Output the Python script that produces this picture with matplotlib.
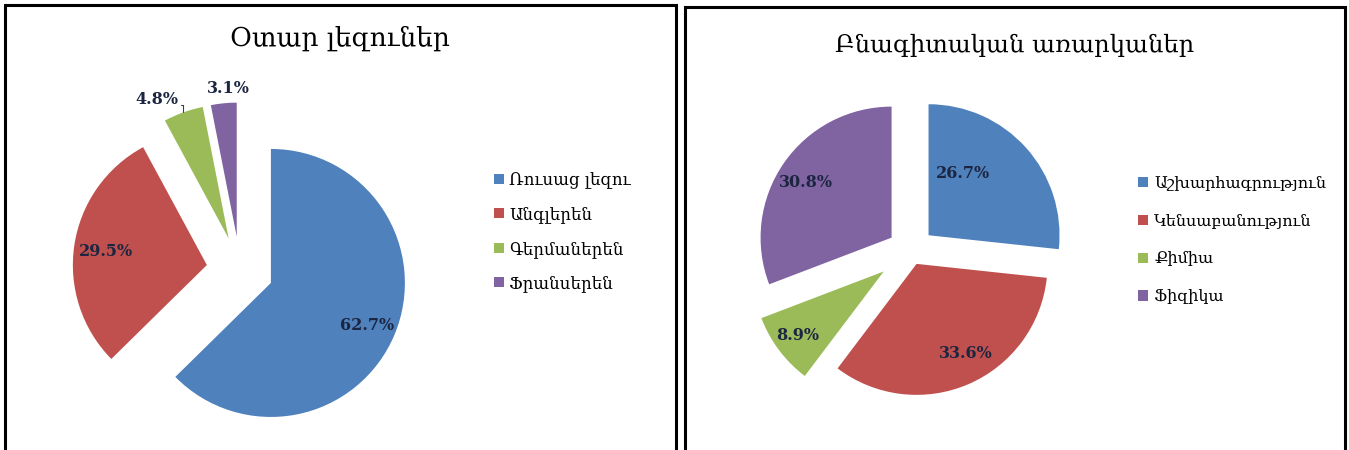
import math
import matplotlib
matplotlib.use("Agg")
import matplotlib.pyplot as plt
from matplotlib.lines import Line2D

plt.rcParams['font.family'] = ['DejaVu Serif', 'DejaVu Sans']

# Օտար լեզուներ
lang_title = 'Օտար լեզուներ'
lang_names = ['Ռուսաց լեզու', 'Անգլերեն', 'Գերմաներեն', 'Ֆրանսերեն']
lang_pct = [62.7, 29.5, 4.8, 3.1]

# Բնագիտական առարկաներ
sci_title = 'Բնագիտական առարկաներ'
sci_names = ['Աշխարհագրություն', 'Կենսաբանություն', 'Քիմիա', 'Ֆիզիկա']
sci_pct = [26.7, 33.6, 8.9, 30.8]

colors = ['#4F81BD', '#C0504D', '#9BBB59', '#8064A2']
label_color = '#1C2541'

W, H = 1349, 450
fig = plt.figure(figsize=(W / 100, H / 100), dpi=100)
ax = fig.add_axes([0, 0, 1, 1])


def draw_pie(values, cx, cy, r, explode, lab_dist, lab_off, leader=None):
    # cx, cy in pixels measured from top-left
    wedges, _ = ax.pie(values, colors=colors, startangle=90, counterclock=False,
                       explode=[e * r for e in explode], radius=r,
                       center=(cx, H - cy),
                       wedgeprops=dict(linewidth=0))
    for i, w in enumerate(wedges):
        mid = math.radians((w.theta1 + w.theta2) / 2 + lab_off[i])
        x0, y0 = w.center
        tx = x0 + lab_dist[i] * r * math.cos(mid)
        ty = y0 + lab_dist[i] * r * math.sin(mid)
        txt = f'{values[i]:.1f}%'
        if leader is not None and i == leader:
            mid0 = math.radians((w.theta1 + w.theta2) / 2)
            px = x0 + r * math.cos(mid0)
            py = y0 + r * math.sin(mid0)
            ax.annotate(txt, xy=(px, py), xytext=(tx, ty), ha='center', va='center',
                        fontsize=11.5, fontweight='bold', color=label_color,
                        arrowprops=dict(arrowstyle='-', color='#404040', lw=0.8,
                                        shrinkA=0, shrinkB=0, relpos=(0.97, 0.12),
                                        connectionstyle='angle,angleA=0,angleB=90,rad=0'))
        else:
            ax.text(tx, ty, txt, ha='center', va='center', fontsize=11.5,
                    fontweight='bold', color=label_color)
    return wedges


w1 = draw_pie(lang_pct, 240, 270, 134, [0.25, 0.25, 0.25, 0.25],
              [0.78, 0.76, 1.17, 1.11], [-1, 1, 7.4, -2.5], leader=2)
w2 = draw_pie(sci_pct, 911, 251, 131, [0.18, 0.107, 0.26, 0.18],
              [0.54, 0.78, 0.82, 0.78], [18.7, 5.2, -0.5, 2])

ax.set_xlim(0, W)
ax.set_ylim(0, H)
ax.set_aspect('equal')
ax.axis('off')

# titles
ax.text(340, H - 38, lang_title, ha='center', va='center', fontsize=19)
ax.text(1015, H - 45, sci_title, ha='center', va='center', fontsize=17.5)

# legends
fig.legend(w1, lang_names, loc='center left', bbox_to_anchor=(486, H - 232),
           bbox_transform=ax.transData, frameon=False, fontsize=12,
           handlelength=0.55, handleheight=0.55, handletextpad=0.35,
           labelspacing=1.05, borderpad=0)
fig.legend(w2, sci_names, loc='center left', bbox_to_anchor=(1130, H - 240),
           bbox_transform=ax.transData, frameon=False, fontsize=11.5,
           handlelength=0.6, handleheight=0.6, handletextpad=0.4,
           labelspacing=1.3, borderpad=0)

# panel borders (bottom edge is outside the picture)
for xs, ys in [([4.5, 4.5, 676, 676], [450, 5, 5, 450]),
               ([685, 685, 1345, 1345], [450, 7, 7, 450])]:
    ax.add_line(Line2D(xs, [H - y for y in ys], color='black', lw=2.2,
                       solid_joinstyle='miter'))

fig.savefig('out.png', dpi=100)
